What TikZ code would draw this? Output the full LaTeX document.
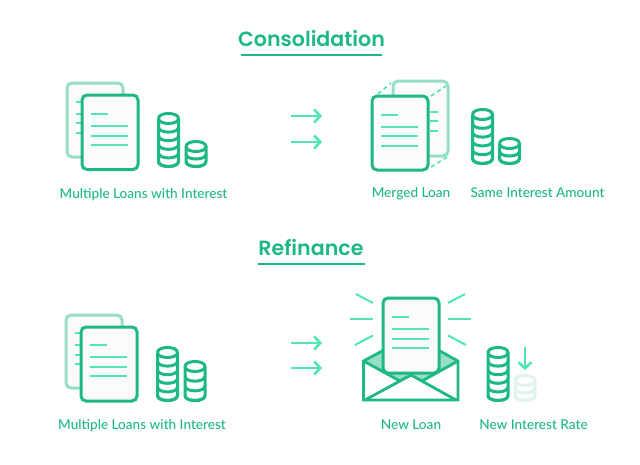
\documentclass[tikz,border=0pt]{standalone}
\usepackage{fontspec}
\setmainfont{Lato}
\newfontfamily\capfont{Lato Medium}
\newfontfamily\titlefont{Poppins SemiBold}
\usetikzlibrary{arrows.meta}
\definecolor{gdark}{HTML}{1DB883}
\definecolor{glight}{HTML}{4FE6B4}
\definecolor{gfade}{HTML}{97DFC4}
\definecolor{gpale}{HTML}{E0F3EC}
\definecolor{paper}{HTML}{FBFBFB}
\tikzset{
  x=1pt,y=-1pt,
  title/.style={text=gdark,font=\titlefont\fontsize{20.6}{24}\selectfont,inner sep=0pt,anchor=base},
  caption/.style={text=gdark,font=\capfont\fontsize{13.6}{15}\selectfont,inner sep=0pt,anchor=base},
  rule/.style={draw=gdark,line width=1.7pt},
  frontdoc/.style={draw=gdark,fill=paper,line width=3pt,rounded corners=5pt},
  backdoc/.style={draw=gfade,fill=paper,line width=3pt,rounded corners=5pt},
  txt/.style={draw=glight,line width=2pt},
  ray/.style={draw=glight,line width=2pt},
  flow/.style={draw=glight,line width=2.6pt,-{Straight Barb[length=6pt,width=13pt,line width=2.6pt]}},
  dashlink/.style={draw=glight,line width=1.7pt,dash pattern=on 4pt off 3.5pt},
  envline/.style={draw=gdark,line width=2.8pt,line join=miter},
}
\newcommand\sheetlines[2]{%
  \draw[txt] (#1+10,#2+20) -- +(17,0);
  \draw[txt] (#1+10,#2+32) -- +(37,0);
  \draw[txt] (#1+10,#2+41.5) -- +(37,0);
  \draw[txt] (#1+10,#2+51) -- +(37,0);
}
% coin stack: cx, ytop, ybottom, segments, colour
\newcommand\coinstack[5]{%
  \pgfmathsetmacro\cstep{(#3-#2-10)/#4}%
  \draw[#5,line width=3pt,fill=white,line join=round]
    (#1-10,#2+5) -- (#1-10,#3-5) .. controls (#1-10,#3+1.67) and (#1+10,#3+1.67) .. (#1+10,#3-5) -- (#1+10,#2+5)
    .. controls (#1+10,#2-1.67) and (#1-10,#2-1.67) .. (#1-10,#2+5);
  \foreach \ci in {0,...,#4}{%
    \pgfmathsetmacro\cy{#2+5+\ci*\cstep}%
    \draw[#5,line width=3pt] (#1-10,\cy) .. controls (#1-10,\cy+6.67) and (#1+10,\cy+6.67) .. (#1+10,\cy);
  }%
}
\begin{document}
\begin{tikzpicture}
\useasboundingbox (0,0) rectangle (640,464);
% ---------- Consolidation
\node[title] (t1) at (311.5,46) {Consolidation};
\coordinate (t1l) at (241,55); \coordinate (t1r) at (382,55);
\draw[rule] (t1l) -- (t1r);

\draw[backdoc] (67,83) rectangle (123,157);
\foreach \yy in {102,114,123,133} \draw[txt] (76,\yy) -- (83,\yy);
\draw[frontdoc] (82,95) rectangle (138,169.5);
\sheetlines{81}{94}
\coinstack{168.5}{113.5}{166.5}{5}{gdark}
\coinstack{196}{141.5}{166.5}{2}{gdark}
\node[caption] (c1) at (143.5,198) {Multiple Loans with Interest};

\coordinate (a1s) at (291,116); \coordinate (a1e) at (322,116);
\coordinate (a2s) at (291,142); \coordinate (a2e) at (322,142);
\draw[flow] (a1s) -- (a1e);
\draw[flow] (a2s) -- (a2e);

\draw[backdoc] (393,81) rectangle (448,156);
\foreach \yy in {112,121,131} \draw[txt] (430,\yy) -- (438,\yy);
\coordinate (d1a) at (378,94); \coordinate (d1b) at (391,83);
\coordinate (d2a) at (431,96); \coordinate (d2b) at (446,86);
\coordinate (d3a) at (431,167); \coordinate (d3b) at (447,157);
\draw[dashlink] (d1a) -- (d1b);
\draw[dashlink] (d2a) -- (d2b);
\draw[dashlink] (d3a) -- (d3b);
\draw[frontdoc] (372,96) rectangle (428,170);
\sheetlines{371}{94.5}
\coinstack{482.5}{109.5}{163.5}{5}{gdark}
\coinstack{509.5}{138.5}{163.5}{2}{gdark}
\node[caption] (c2) at (411,197.5) {Merged Loan};
\node[caption] (c3) at (537.5,197.5) {Same Interest Amount};

% ---------- Refinance
\node[title] (t2) at (311,255) {Refinance};
\coordinate (t2l) at (258,264); \coordinate (t2r) at (365,264);
\draw[rule] (t2l) -- (t2r);

\draw[backdoc] (66,315) rectangle (122,388);
\foreach \yy in {333,345,354.5,364} \draw[txt] (75,\yy) -- (81,\yy);
\draw[frontdoc] (81,327) rectangle (137,401);
\sheetlines{80}{325}
\coinstack{167.5}{347.5}{400.5}{5}{gdark}
\coinstack{195}{361.5}{400.5}{3}{gdark}
\node[caption] (c4) at (142,429.5) {Multiple Loans with Interest};

\coordinate (a3s) at (291,343); \coordinate (a3e) at (322,343);
\coordinate (a4s) at (291,368); \coordinate (a4e) at (322,368);
\draw[flow] (a3s) -- (a3e);
\draw[flow] (a4s) -- (a4e);

% envelope
\fill[white] (363.5,361) rectangle (458,400);
\fill[gfade] (363.5,361) -- (383,350) -- (383,374) -- (439,374) -- (439,350) -- (458,361) -- (422,381) -- (411,375) -- (400,381) -- cycle;
\draw[frontdoc] (383,298) rectangle (439,373);
\sheetlines{382}{297}
\draw[envline] (383,350.5) -- (363.5,361) -- (363.5,400) -- (458,400) -- (458,361) -- (439,350.5);
\draw[envline] (363.5,361) -- (400,381);
\draw[envline] (458,361) -- (422,381);
\draw[envline] (365,400) -- (411,375) -- (456,400);
\draw[ray] (356,294) -- (373,303);
\draw[ray] (350,319) -- (373,319);
\draw[ray] (355,345) -- (373,335.5);
\draw[ray] (448,303) -- (465,294);
\draw[ray] (448,318.5) -- (471,318.5);
\draw[ray] (448,335.5) -- (466,345);
% coins
\coinstack{525}{375.5}{400.5}{2}{gpale}
\coinstack{498}{347.5}{400.5}{5}{gdark}
\coordinate (a5s) at (525,347); \coordinate (a5e) at (525,370);
\draw[flow] (a5s) -- (a5e);
\node[caption] (c5) at (411,429.5) {New Loan};
\node[caption] (c6) at (533.5,429.5) {New Interest Rate};
\end{tikzpicture}
\end{document}
